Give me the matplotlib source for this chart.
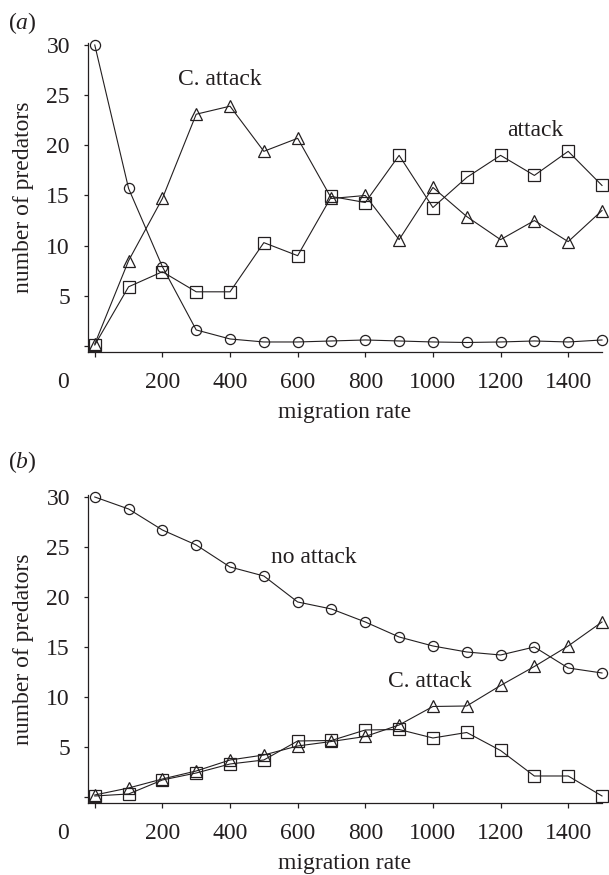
import matplotlib
matplotlib.use('Agg')
import matplotlib.pyplot as plt
import matplotlib.transforms as mtransforms

plt.rcParams['font.family'] = 'Liberation Serif'
plt.rcParams['mathtext.fontset'] = 'custom'
plt.rcParams['mathtext.rm'] = 'Liberation Serif'
plt.rcParams['mathtext.it'] = 'Liberation Serif:italic'

# migration rates shared by both panels
migration = [0, 100, 200, 300, 400, 500, 600, 700, 800, 900, 1000, 1100, 1200, 1300, 1400, 1500]

# panel (a)
a_no_attack = [30.0, 15.7, 7.9, 1.6, 0.7, 0.4, 0.4, 0.5, 0.6, 0.5, 0.4, 0.35, 0.4, 0.5, 0.4, 0.6]
a_c_attack = [0.2, 8.5, 14.7, 23.1, 23.9, 19.4, 20.7, 14.7, 15.0, 10.6, 15.8, 12.9, 10.6, 12.5, 10.4, 13.5]
a_attack = [0.1, 5.9, 7.4, 5.4, 5.4, 10.3, 9.0, 14.9, 14.3, 19.0, 13.8, 16.8, 19.0, 17.0, 19.4, 16.0]

# panel (b)
b_no_attack = [30.0, 28.8, 26.7, 25.2, 23.0, 22.1, 19.5, 18.8, 17.5, 16.0, 15.1, 14.5, 14.2, 15.0, 12.9, 12.4]
b_c_attack = [0.2, 0.9, 1.8, 2.6, 3.7, 4.2, 5.1, 5.55, 6.05, 7.2, 9.05, 9.1, 11.15, 13.05, 15.1, 17.5]
b_attack = [0.1, 0.3, 1.7, 2.4, 3.3, 3.7, 5.6, 5.65, 6.7, 6.75, 5.9, 6.45, 4.65, 2.1, 2.1, 0.1]

xticks = [0, 200, 400, 600, 800, 1000, 1200, 1400]
xticklabels = ['', '200', '400', '600', '800', '1000', '1200', '1400']
yticks = [0, 5, 10, 15, 20, 25, 30]
yticklabels = ['', '5', '10', '15', '20', '25', '30']

ink = '#231f20'
fs = 17
xtick_len, xtick_pad = 3.6, 10.5

fig = plt.figure(figsize=(6.09, 8.75), dpi=100)


def draw_panel(ax, no_att, c_att, att, labels):
    for vals, mk, ms in [(no_att, 'o', 7.3), (c_att, '^', 8.0), (att, 's', 8.0)]:
        ax.plot(migration, vals, color=ink, lw=0.8, marker=mk, ms=ms,
                mfc='none', mec=ink, mew=0.9, clip_on=False, zorder=3)
    for txt, x, y in labels:
        ax.text(x, y, txt, fontsize=fs, color=ink, ha='center', va='center')

    ax.set_xlim(-20, 1500)
    ax.set_ylim(-0.6, 30.2)
    ax.spines['top'].set_visible(False)
    ax.spines['right'].set_visible(False)
    for s in ['left', 'bottom']:
        ax.spines[s].set_color(ink)
        ax.spines[s].set_linewidth(0.9)

    ax.set_xticks(xticks)
    ax.set_xticklabels(xticklabels)
    ax.set_yticks(yticks)
    ax.set_yticklabels(yticklabels)
    ax.tick_params(axis='x', direction='out', length=xtick_len, width=0.9,
                   pad=xtick_pad, labelsize=fs, colors=ink)
    ax.tick_params(axis='y', direction='out', length=3, width=0.9,
                   pad=10, labelsize=fs, colors=ink)

    # the lone "0" that sits left of the axis origin
    trans = mtransforms.blended_transform_factory(ax.transData, ax.transAxes) + \
        mtransforms.ScaledTranslation(0, -(xtick_len + xtick_pad) / 72, fig.dpi_scale_trans)
    ax.text(-95, 0, '0', transform=trans, fontsize=fs, color=ink, ha='center', va='top')

    ax.set_xlabel('migration rate', fontsize=fs, color=ink, labelpad=7)
    ax.set_ylabel('number of predators', fontsize=fs, color=ink, labelpad=9)


ax_a = fig.add_axes([0.1445, 0.5977, 0.844, 0.3532])
draw_panel(ax_a, a_no_attack, a_c_attack, a_attack,
           [('C. attack', 370, 26.6), ('attack', 1302, 21.5)])

ax_b = fig.add_axes([0.1445, 0.0823, 0.844, 0.352])
draw_panel(ax_b, b_no_attack, b_c_attack, b_attack,
           [('no attack', 648, 23.9), ('C. attack', 990, 11.55)])

fig.text(0.013, 1 - 23 / 875, r'($\mathit{a}$)', fontsize=fs, color=ink, ha='left', va='center')
fig.text(0.013, 1 - 462 / 875, r'($\mathit{b}$)', fontsize=fs, color=ink, ha='left', va='center')

fig.savefig('out.png', dpi=100)
